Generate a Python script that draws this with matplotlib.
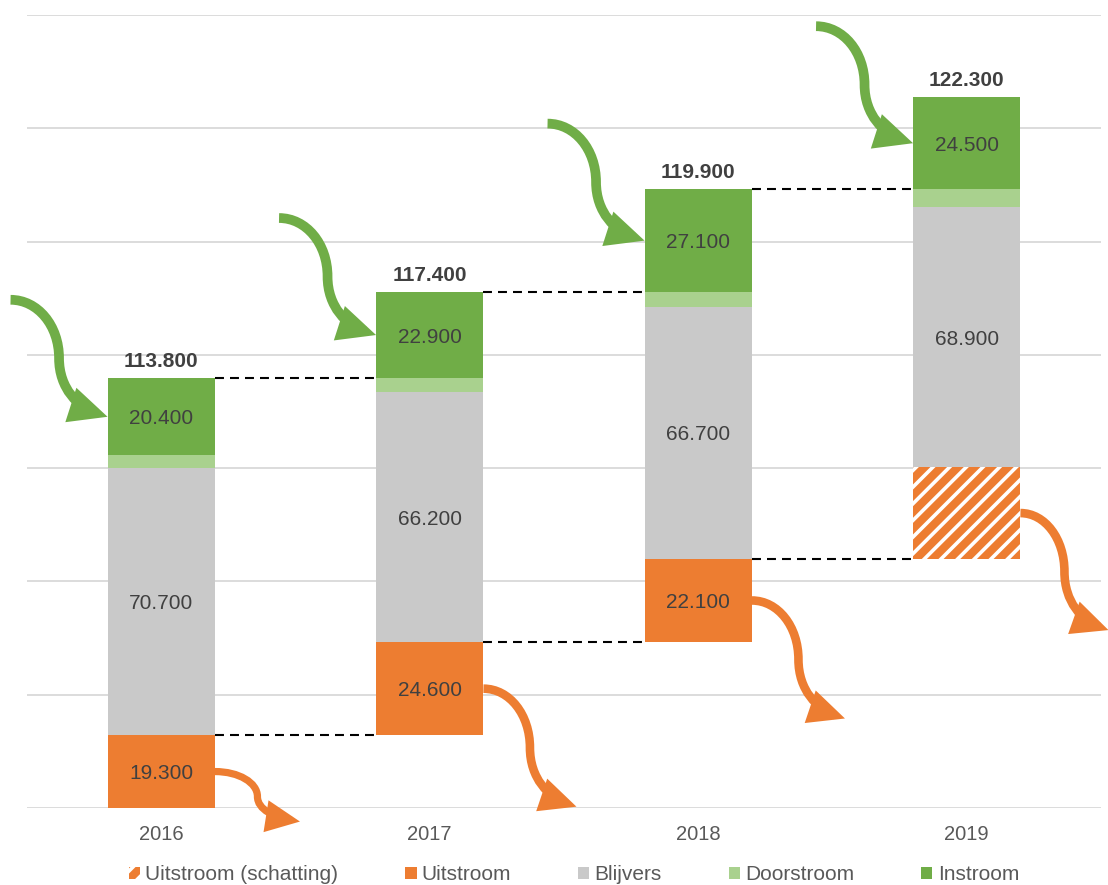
import numpy as np
import matplotlib
matplotlib.use('Agg')
import matplotlib.pyplot as plt
from matplotlib.patches import FancyArrowPatch, Patch
from matplotlib.path import Path
from matplotlib.transforms import IdentityTransform

plt.rcParams['font.family'] = ['Liberation Sans', 'DejaVu Sans']
plt.rcParams['hatch.linewidth'] = 2.6

# data
years = ['2016', '2017', '2018', '2019']
uitstroom = [19300, 24600, 22100, 0]
uitstroom_schatting = [0, 0, 0, 24200]
blijvers = [70700, 66200, 66700, 68900]
doorstroom = [3400, 3700, 4000, 4700]
instroom = [20400, 22900, 27100, 24500]
totaal = [113800, 117400, 119900, 122300]

ORANGE = '#ED7D31'
GREY = '#C9C9C9'
LIGHTGREEN = '#A9D18E'
GREEN = '#70AD47'
TXT = '#404040'
AXTXT = '#595959'


def fmt(v):
    return f'{v:,}'.replace(',', '.')


fig = plt.figure(figsize=(11.08, 8.85), dpi=100)
ax = fig.add_axes([27 / 1108, 77 / 885, 1074 / 1108, 793 / 885])

x = np.arange(len(years))
w = 0.4
uit = np.array(uitstroom) + np.array(uitstroom_schatting)
base = np.concatenate([[0], np.cumsum(uit)[:-1]])

b = base.astype(float)
ax.bar(x, uitstroom, w, bottom=b, color=ORANGE, linewidth=0)
ax.bar(x, uitstroom_schatting, w, bottom=b, color=ORANGE, edgecolor='white',
       hatch='//', linewidth=0)
b_blijv = b + uit
ax.bar(x, blijvers, w, bottom=b_blijv, color=GREY, linewidth=0)
b_door = b_blijv + np.array(blijvers)
ax.bar(x, doorstroom, w, bottom=b_door, color=LIGHTGREEN, linewidth=0)
b_in = b_door + np.array(doorstroom)
ax.bar(x, instroom, w, bottom=b_in, color=GREEN, linewidth=0)


def seg_label(xp, yp, v):
    # centre the digits (not the text box) on the segment
    ax.annotate(fmt(v), (xp, yp), xytext=(0, -5.4), textcoords='offset points',
                ha='center', va='baseline', fontsize=15, color=TXT)


for i in range(len(years)):
    if uitstroom[i] > 0:
        seg_label(x[i], b[i] + uitstroom[i] / 2, uitstroom[i])
    seg_label(x[i], b_blijv[i] + blijvers[i] / 2, blijvers[i])
    seg_label(x[i], b_in[i] + instroom[i] / 2, instroom[i])
    ax.annotate(fmt(totaal[i]), (x[i], base[i] + totaal[i]), xytext=(0, 8),
                textcoords='offset points', ha='center', va='baseline',
                fontsize=15, fontweight='bold', color=TXT)

# dashed connectors
for i in range(len(years) - 1):
    ax.hlines([base[i] + uit[i], base[i] + totaal[i]], x[i] + w / 2, x[i + 1] - w / 2,
              colors='black', linestyles=(0, (4.3, 2.9)), linewidth=1.5, zorder=3)

ax.set_xlim(-0.5, 3.5)
ax.set_ylim(0, 210000)
ax.set_yticks(np.arange(0, 210001, 30000))
ax.yaxis.grid(True, color='#D9D9D9', linewidth=1.3)
ax.set_axisbelow(True)
ax.tick_params(axis='y', length=0, labelleft=False)
ax.set_xticks(x, years)
ax.tick_params(axis='x', length=0, pad=12, labelsize=14.5, labelcolor=AXTXT)
for s in ax.spines.values():
    s.set_visible(False)


# curved arrows (pixel offsets from anchor points on the bars)
def s_arrow(start, dx, dy, color, lw):
    sx, sy = start
    pts = [(0, 0), (0.28, 0.0), (0.50, 0.22), (0.50, 0.50),
           (0.50, 0.76), (0.70, 0.92), (1, 1)]
    verts = [(sx + u * dx, sy - v * dy) for u, v in pts]
    codes = [Path.MOVETO] + [Path.CURVE4] * 6
    arr = FancyArrowPatch(path=Path(verts, codes),
                          arrowstyle='-|>,head_length=16,head_width=7.5',
                          mutation_scale=1, color=color, lw=lw,
                          transform=IdentityTransform(), joinstyle='miter',
                          capstyle='butt')
    fig.add_artist(arr)


uit_arrow = [(85, 50), (93, 118), (93, 118), (88, 117)]
for i in range(len(years)):
    tip = ax.transData.transform((x[i] - w / 2, b_in[i] + instroom[i] / 2))
    s_arrow((tip[0] - 97, tip[1] + 117), 97, 117, GREEN, 7.0)
    st = ax.transData.transform((x[i] + w / 2, b[i] + uit[i] / 2))
    dx, dy = uit_arrow[i]
    s_arrow(st, dx, dy, ORANGE, 6.2 if i > 0 else 5.2)

handles = [
    Patch(facecolor=ORANGE, edgecolor='white', hatch='//', linewidth=0),
    Patch(facecolor=ORANGE, linewidth=0),
    Patch(facecolor=GREY, linewidth=0),
    Patch(facecolor=LIGHTGREEN, linewidth=0),
    Patch(facecolor=GREEN, linewidth=0),
]
labels = ['Uitstroom (schatting)', 'Uitstroom', 'Blijvers', 'Doorstroom', 'Instroom']
fig.legend(handles, labels, loc='center', bbox_to_anchor=(0.518, 0.0115), ncol=5,
           frameon=False, fontsize=15, labelcolor=AXTXT, handlelength=0.55,
           handleheight=0.55, handletextpad=0.25, columnspacing=3.2, borderpad=0)

fig.savefig('out.png', dpi=100)
